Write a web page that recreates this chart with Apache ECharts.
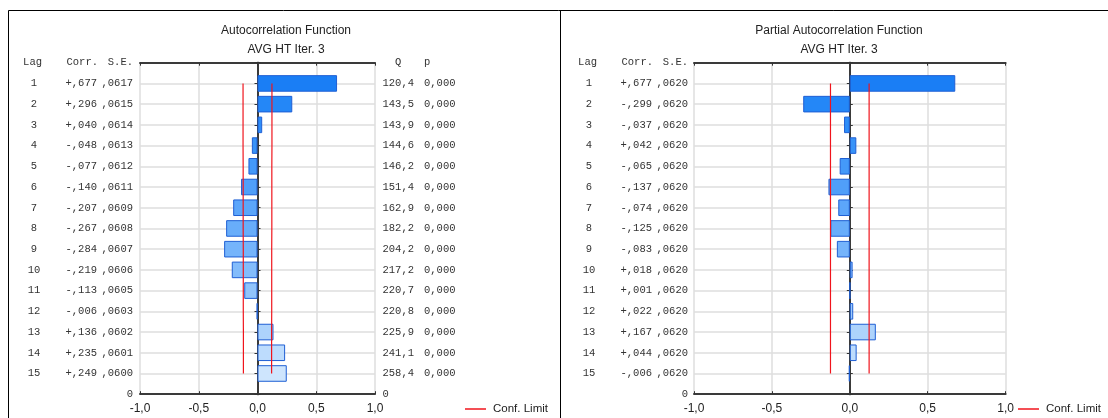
<!DOCTYPE html>
<html>
<head>
<meta charset="utf-8">
<script src="https://cdn.jsdelivr.net/npm/echarts@6/dist/echarts.min.js"></script>
<style>
html,body{margin:0;padding:0;background:#fff;}
#chart{width:1108px;height:418px;}
</style>
</head>
<body>
<div id="chart"></div>
<script>
// ---- data ----
const lags = ['1','2','3','4','5','6','7','8','9','10','11','12','13','14','15'];
const acfCorr = [0.677, 0.296, 0.040, -0.048, -0.077, -0.140, -0.207, -0.267, -0.284, -0.219, -0.113, -0.006, 0.136, 0.235, 0.249];
const acfSE = [0.0617, 0.0615, 0.0614, 0.0613, 0.0612, 0.0611, 0.0609, 0.0608, 0.0607, 0.0606, 0.0605, 0.0603, 0.0602, 0.0601, 0.0600];
const acfQ = [120.4, 143.5, 143.9, 144.6, 146.2, 151.4, 162.9, 182.2, 204.2, 217.2, 220.7, 220.8, 225.9, 241.1, 258.4];
const acfP = [0.000, 0.000, 0.000, 0.000, 0.000, 0.000, 0.000, 0.000, 0.000, 0.000, 0.000, 0.000, 0.000, 0.000, 0.000];
const acfLimit = [0.123, 0.123, 0.123, 0.123, 0.122, 0.122, 0.122, 0.122, 0.121, 0.121, 0.121, 0.121, 0.120, 0.120, 0.120];
const pacfCorr = [0.677, -0.299, -0.037, 0.042, -0.065, -0.137, -0.074, -0.125, -0.083, 0.018, 0.001, 0.022, 0.167, 0.044, -0.006];
const pacfSE = [0.0620, 0.0620, 0.0620, 0.0620, 0.0620, 0.0620, 0.0620, 0.0620, 0.0620, 0.0620, 0.0620, 0.0620, 0.0620, 0.0620, 0.0620];
const pacfLimit = [0.124, 0.124, 0.124, 0.124, 0.124, 0.124, 0.124, 0.124, 0.124, 0.124, 0.124, 0.124, 0.124, 0.124, 0.124];
const titles = ['Autocorrelation Function', 'Partial Autocorrelation Function'];
const subtitle = 'AVG HT Iter. 3';
const legendName = 'Conf. Limit';

// ---- styles ----
const barColors = ['#1a7ef5','#2487f7','#2e8df8','#3993f8','#4499f9','#509ff9','#5ca6fa','#68adfa','#75b4fb','#83bcfb','#91c4fb','#9fcbfc','#add3fc','#bddcfd','#cee5fd'];
const MONO = '"Liberation Mono","DejaVu Sans Mono",monospace';
const SANS = '"Liberation Sans",Arial,sans-serif';
const FS = 10.5;
const txt = '#333';

const yCats = ['hdr'].concat(lags).concat(['end']);

function fmtCorr(v){ return (v < 0 ? '-' : '+') + Math.abs(v).toFixed(3).slice(1).replace('.', ','); }
function fmtSE(v){ return v.toFixed(4).slice(1).replace('.', ','); }
function fmtComma(v, d){ return v.toFixed(d).replace('.', ','); }

const mono = {fontFamily: MONO, fontSize: FS, color: txt};
const leftRich = {
  lag: Object.assign({width: 54, align: 'center'}, mono),
  cor: Object.assign({width: 40.5, align: 'center'}, mono),
  se: Object.assign({width: 31.5, align: 'right'}, mono),
  hl: Object.assign({width: 35, align: 'right'}, mono),
  hc: Object.assign({width: 56, align: 'right'}, mono),
  hsp: Object.assign({width: 3.5, align: 'right'}, mono)
};
const rightRich = {
  q: Object.assign({width: 31.5, align: 'left'}, mono),
  sp2: Object.assign({width: 10, align: 'left'}, mono),
  p: Object.assign({width: 31.5, align: 'left'}, mono)
};

function leftFormatter(corr, se){
  return function(val, idx){
    if (idx === 0) return '{hl|Lag}{hc|Corr.}{hsp| }{se|S.E.}';
    if (idx === yCats.length - 1) return '0';
    const i = idx - 1;
    return '{lag|' + lags[i] + '}{cor|' + fmtCorr(corr[i]) + '}{se|' + fmtSE(se[i]) + '}';
  };
}
function qpFormatter(val, idx){
  if (idx === 0) return '{q|  Q}{sp2| }{p|p}';
  if (idx === yCats.length - 1) return '0';
  const i = idx - 1;
  return '{q|' + fmtComma(acfQ[i], 1) + '}{sp2| }{p|' + fmtComma(acfP[i], 3) + '}';
}

const axisLineStyle = {show: true, lineStyle: {color: '#3a3a3a', width: 2}};
const tickStyle = {show: true, inside: true, length: 3, lineStyle: {color: '#333'}};
const splitStyle = {color: '#dedede', width: 1.5};
const gridTop = 62.7, gridH = 331.5;
const grids = [
  {left: 140, top: gridTop, width: 235, height: gridH},
  {left: 694, top: gridTop, width: 311.6, height: gridH}
];

function xAxes(gi){
  return [
    {type: 'value', gridIndex: gi, min: -1, max: 1, interval: 0.5, position: 'bottom',
      axisLine: axisLineStyle, axisTick: tickStyle,
      axisLabel: {margin: 8, fontFamily: SANS, fontSize: 12, color: '#222',
        formatter: v => fmtComma(v, 1)},
      splitLine: {show: true, lineStyle: splitStyle}},
    {type: 'value', gridIndex: gi, min: -1, max: 1, interval: 0.5, position: 'top',
      axisLine: axisLineStyle, axisTick: tickStyle,
      axisLabel: {show: false}, splitLine: {show: false}}
  ];
}
function yAxes(gi, corr, se, withQ){
  return [
    {type: 'category', gridIndex: gi, data: yCats, inverse: true, boundaryGap: false, position: 'left',
      axisLine: axisLineStyle,
      axisTick: Object.assign({interval: 0}, tickStyle),
      axisLabel: {interval: 0, margin: gi === 0 ? 7 : 6, fontFamily: MONO, fontSize: FS, color: txt,
        formatter: leftFormatter(corr, se), rich: leftRich},
      splitLine: {show: true, interval: 0, lineStyle: splitStyle}},
    {type: 'category', gridIndex: gi, data: yCats, inverse: true, boundaryGap: false, position: 'right',
      axisLine: axisLineStyle,
      axisTick: Object.assign({interval: 0}, tickStyle),
      axisLabel: withQ ? {interval: 0, margin: 7.5, fontFamily: MONO, fontSize: FS, color: txt,
        formatter: qpFormatter, rich: rightRich} : {show: false},
      splitLine: {show: false}}
  ];
}

function barSeries(xi, yi, corr){
  const data = ['-'].concat(corr.map((v, i) => ({value: v, itemStyle: {color: barColors[i]}}))).concat(['-']);
  return {type: 'bar', xAxisIndex: xi, yAxisIndex: yi, data: data, barWidth: '80%',
    itemStyle: {borderColor: '#1f5fd4', borderWidth: 1}, silent: true};
}
function limitSeries(xi, yi, lim, sign){
  return {type: 'line', name: legendName, xAxisIndex: xi, yAxisIndex: yi,
    data: lim.map((v, i) => [sign * v, i + 1]), symbol: 'none',
    lineStyle: {color: '#f0141c', width: 1.2}, itemStyle: {color: '#f0141c'}, silent: true, z: 5};
}

const legendCommon = {top: 398, data: [legendName], icon: 'rect', itemWidth: 21, itemHeight: 1.5,
  selectedMode: false, textStyle: {fontFamily: SANS, fontSize: 11.5, color: '#222', padding: [0,0,0,2]}};

const chart = echarts.init(document.getElementById('chart'), null, {renderer: 'canvas'});
chart.setOption({
  animation: false,
  backgroundColor: '#fff',
  grid: grids,
  xAxis: xAxes(0).concat(xAxes(1)),
  yAxis: yAxes(0, acfCorr, acfSE, true).concat(yAxes(1, pacfCorr, pacfSE, false)),
  legend: [
    Object.assign({left: 460}, legendCommon),
    Object.assign({left: 1013}, legendCommon)
  ],
  series: [
    barSeries(0, 0, acfCorr),
    limitSeries(0, 0, acfLimit, -1),
    limitSeries(0, 0, acfLimit, 1),
    barSeries(2, 2, pacfCorr),
    limitSeries(2, 2, pacfLimit, -1),
    limitSeries(2, 2, pacfLimit, 1)
  ],
  graphic: [
    {type: 'line', shape: {x1: 8.5, y1: 10.5, x2: 1108, y2: 10.5}, style: {stroke: '#000', lineWidth: 1}},
    {type: 'line', shape: {x1: 8.5, y1: 10.5, x2: 8.5, y2: 418}, style: {stroke: '#000', lineWidth: 1}},
    {type: 'line', shape: {x1: 560.5, y1: 10.5, x2: 560.5, y2: 418}, style: {stroke: '#000', lineWidth: 1}},
    {type: 'text', x: 286, y: 30.5, style: {text: titles[0], align: 'center', verticalAlign: 'middle', font: '12px ' + SANS, fill: '#222'}},
    {type: 'text', x: 286, y: 50, style: {text: subtitle, align: 'center', verticalAlign: 'middle', font: '12px ' + SANS, fill: '#222'}},
    {type: 'text', x: 839, y: 30.5, style: {text: titles[1], align: 'center', verticalAlign: 'middle', font: '12px ' + SANS, fill: '#222'}},
    {type: 'text', x: 839, y: 50, style: {text: subtitle, align: 'center', verticalAlign: 'middle', font: '12px ' + SANS, fill: '#222'}}
  ]
});
</script>
</body>
</html>
